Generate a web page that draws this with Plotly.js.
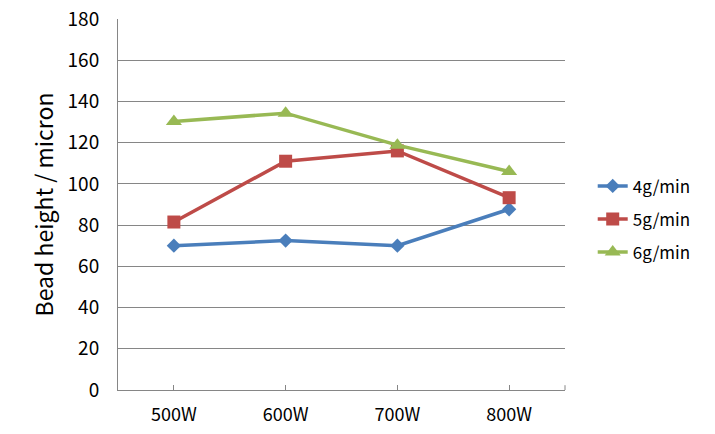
<!DOCTYPE html>
<html>
<head>
<meta charset="utf-8">
<script src="https://cdn.plot.ly/plotly-3.0.1.min.js"></script>
<style>html,body{margin:0;padding:0;background:#fff;}#chart{width:715px;height:434px;}</style>
</head>
<body>
<div id="chart"></div>
<script>
const categories = ["500W", "600W", "700W", "800W"];
const series4 = [70, 72.5, 70, 87.7];
const series5 = [81.5, 111, 116, 93.3];
const series6 = [130.3, 134.3, 118.8, 106];
const seriesNames = ["4g/min", "5g/min", "6g/min"];
const yTicks = [0, 20, 40, 60, 80, 100, 120, 140, 160, 180];

const FONT = "Noto Sans CJK KR, Open Sans, sans-serif";
const traces = [
  {x: categories, y: series4, name: seriesNames[0], legendgroup: "a", mode: "lines+markers",
   line: {color: "#4A7EBB", width: 3.5}, marker: {symbol: "diamond", size: 11, color: "#4A7EBB"}},
  {x: categories, y: series5, name: seriesNames[1], legendgroup: "b", mode: "lines+markers",
   line: {color: "#BE4B48", width: 3.5}, marker: {symbol: "square", size: 13, color: "#BE4B48"}},
  {x: categories, y: series6, name: seriesNames[2], legendgroup: "c", mode: "lines+markers",
   line: {color: "#98B954", width: 3.5}, marker: {symbol: "triangle-up", size: 14, color: "#98B954"}}
];

const layout = {
  width: 715, height: 434,
  margin: {l: 118, r: 150, t: 19, b: 44},
  paper_bgcolor: "#fff", plot_bgcolor: "#fff",
  font: {family: FONT, color: "#000", size: 17},
  showlegend: true,
  legend: {x: 1.062, y: 0.46, xanchor: "left", yanchor: "middle", tracegroupgap: 8,
           font: {family: FONT, size: 17, color: "#000"}, bgcolor: "rgba(0,0,0,0)"},
  xaxis: {type: "category", range: [-0.5, 3.5], showline: true, linecolor: "#868686", linewidth: 1,
          ticks: "inside", ticklen: 5, tickcolor: "#868686", showgrid: false, zeroline: false,
          ticklabelstandoff: 8, tickfont: {family: FONT, size: 18}, fixedrange: true},
  yaxis: {range: [0, 180], tickvals: yTicks, ticktext: yTicks.map(String), showline: true,
          linecolor: "#868686", linewidth: 1, showgrid: true, gridcolor: "#868686", gridwidth: 1,
          zeroline: false, ticks: "", ticklabelstandoff: 14, tickfont: {family: FONT, size: 19},
          title: {text: "Bead height / micron", font: {family: FONT, size: 23}, standoff: 7}},
  shapes: [{type: "line", xref: "paper", yref: "paper", x0: 1, x1: 1, y0: 0, y1: 0.013,
            line: {color: "#868686", width: 1}}]
};

Plotly.newPlot("chart", traces, layout, {displayModeBar: false, staticPlot: true});
</script>
</body>
</html>
